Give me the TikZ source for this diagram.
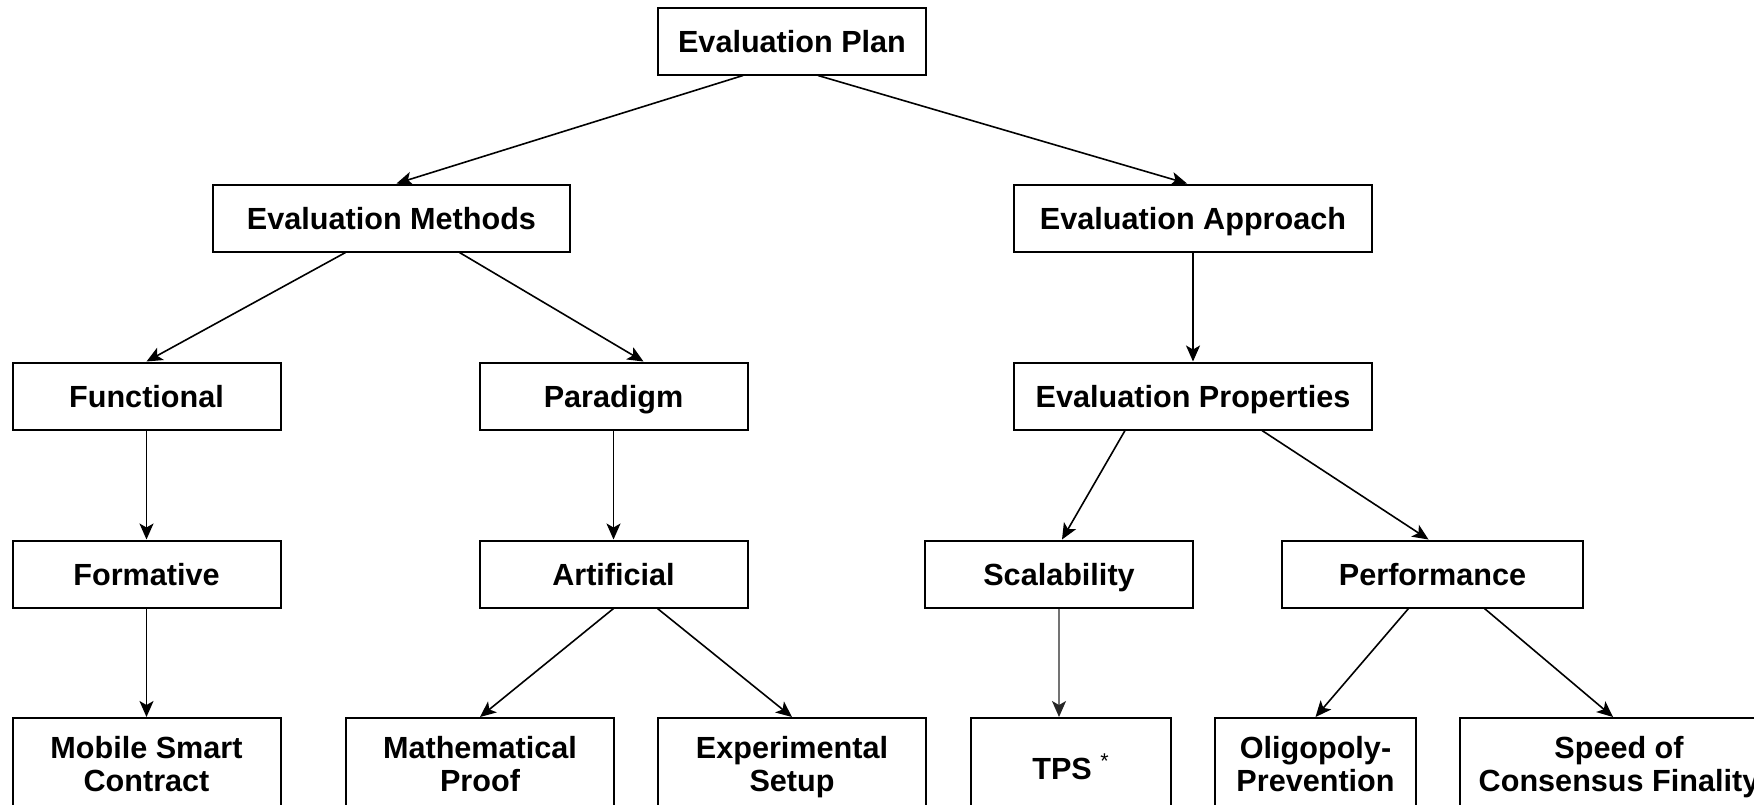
\documentclass[tikz,border=0pt]{standalone}
\usepackage{fontspec}
\setmainfont{Liberation Sans}
\usetikzlibrary{arrows.meta}
\tikzset{
  box/.style={draw, line width=1pt, minimum width=134pt, minimum height=33.5pt,
    inner sep=0pt, align=center, text height=11pt, text depth=0pt,
    font=\bfseries\fontsize{15.3}{16.5}\selectfont},
  leaf/.style={draw, line width=1pt, minimum width=134pt, minimum height=46pt,
    inner sep=0pt, align=center, text height=27.5pt, text depth=0pt,
    font=\bfseries\fontsize{15.3}{16.5}\selectfont},
  link/.style={line width=0.8pt, -{Stealth[length=8pt,width=7pt,inset=2pt]}}
}
\begin{document}
\begin{tikzpicture}[x=0.5pt,y=-0.5pt]
  \clip (0,0) rectangle (1754,804);
  % top
  \node[box] (plan) at (792,41) {Evaluation Plan};
  \node[box, minimum width=178.5pt] (methods) at (391.5,218) {Evaluation Methods};
  \node[box, minimum width=179pt] (approach) at (1193,218) {Evaluation Approach};
  % third row
  \node[box] (functional) at (146.5,396) {Functional};
  \node[box] (paradigm) at (613.5,396) {Paradigm};
  \node[box, minimum width=179pt] (properties) at (1193,396) {Evaluation Properties};
  % fourth row
  \node[box] (formative) at (146.5,574) {Formative};
  \node[box] (artificial) at (613.5,574) {Artificial};
  \node[box] (scalability) at (1059,574) {Scalability};
  \node[box, minimum width=150.5pt] (performance) at (1432.5,574) {Performance};
  % leaves
  \node[leaf] (mobile) at (146.5,764) {Mobile Smart\\Contract};
  \node[leaf] (proof) at (480,764) {Mathematical\\Proof};
  \node[leaf] (setup) at (792,764) {Experimental\\Setup};
  \node[leaf, minimum width=100pt, text height=15pt] (tps) at (1071,764) {TPS \textsuperscript{\mdseries *}};
  \node[leaf, minimum width=100.5pt] (oligopoly) at (1315.5,764) {Oligopoly-\\Prevention};
  \node[leaf, minimum width=159pt] (speed) at (1619,764) {Speed of\\Consensus Finality};

  \path[link]
  ([xshift=-24.5pt]plan.south) edge ([xshift=2.5pt]methods.north)
  ([xshift=13pt]plan.south) edge ([xshift=-3pt]approach.north)
  ([xshift=-23pt]methods.south) edge (functional.north)
  ([xshift=34pt]methods.south) edge ([xshift=15pt]paradigm.north)
  (approach) edge (properties)
  (functional) edge (formative)
  (paradigm) edge (artificial)
  ([xshift=-34pt]properties.south) edge ([xshift=1.5pt]scalability.north)
  ([xshift=34.5pt]properties.south) edge ([xshift=-2pt]performance.north)
  (formative) edge (mobile)
  (artificial.south) edge (proof.north)
  ([xshift=22pt]artificial.south) edge (setup.north)
  ([xshift=-12pt]performance.south) edge (oligopoly.north)
  ([xshift=26pt]performance.south) edge ([xshift=-3pt]speed.north);
  \draw[line width=0.8pt, draw=black!55, -{Stealth[length=8pt,width=7pt,inset=2pt,color=black!85]}]
    (scalability.south) -- ([xshift=-6pt]tps.north);
\end{tikzpicture}
\end{document}
